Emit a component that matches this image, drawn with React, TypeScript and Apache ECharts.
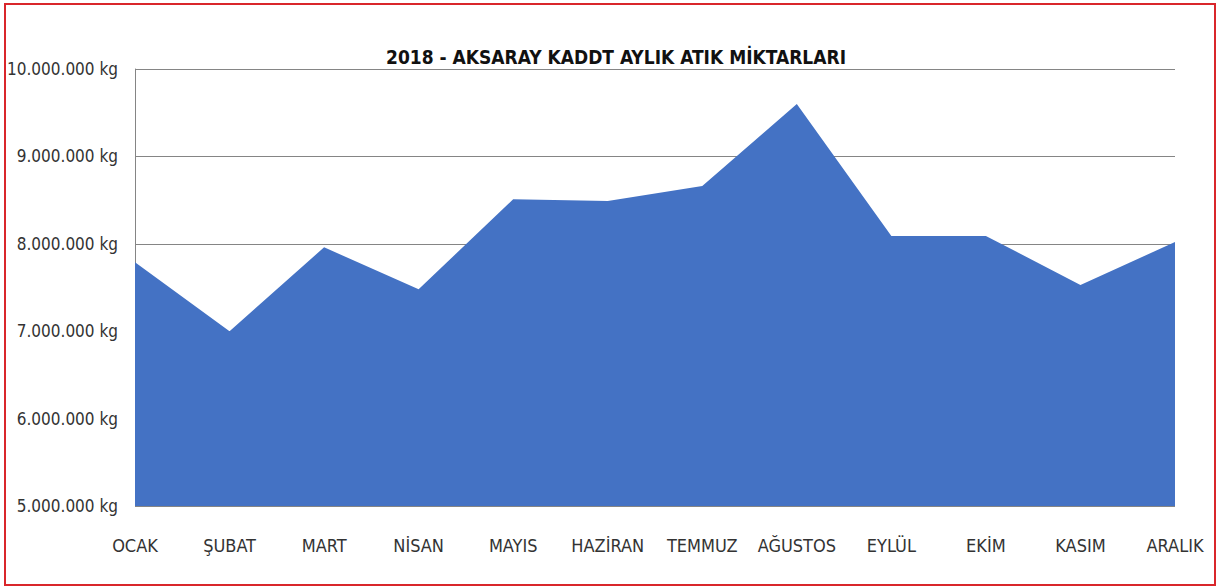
import React, { useEffect, useRef } from "react";
import * as echarts from "echarts";

const months = ["OCAK", "ŞUBAT", "MART", "NİSAN", "MAYIS", "HAZİRAN", "TEMMUZ", "AĞUSTOS", "EYLÜL", "EKİM", "KASIM", "ARALIK"];
const wasteKg = [7790000, 7000000, 7960000, 7480000, 8510000, 8490000, 8660000, 9600000, 8090000, 8090000, 7530000, 8020000];
const titleText = "2018 - AKSARAY KADDT AYLIK ATIK MİKTARLARI";

const FONT = "'Liberation Sans Narrow', 'DejaVu Sans Condensed', 'Liberation Sans', sans-serif";

function fmt(v: number): string {
  return String(Math.round(v)).replace(/\B(?=(\d{3})+(?!\d))/g, ".") + " kg";
}

export default function App() {
  const ref = useRef<HTMLDivElement>(null);
  useEffect(() => {
    if (!ref.current) return;
    const chart = echarts.init(ref.current, null, { renderer: "svg" });
    chart.setOption({
      animation: false,
      backgroundColor: "#ffffff",
      title: {
        text: titleText,
        left: 611,
        textAlign: "center",
        top: 42,
        textStyle: { fontFamily: FONT, fontWeight: "bold", fontSize: 19, color: "#111" },
      },
      graphic: [
        {
          type: "rect",
          shape: { x: 5, y: 4, width: 1210, height: 581 },
          style: { fill: "none", stroke: "#d9262b", lineWidth: 2 },
          silent: true,
        },
      ],
      grid: { left: 135, right: 42, top: 69, bottom: 82 },
      xAxis: {
        type: "category",
        data: months,
        boundaryGap: false,
        axisLine: { show: false },
        axisTick: { show: false },
        axisLabel: { fontFamily: FONT, fontSize: 18, color: "#333", margin: 30, interval: 0 },
      },
      yAxis: {
        type: "value",
        min: 5000000,
        max: 10000000,
        interval: 1000000,
        axisLine: { show: true, lineStyle: { color: "#858585", width: 1 } },
        axisTick: { show: false },
        splitLine: { show: true, lineStyle: { color: "#858585", width: 1 } },
        axisLabel: {
          fontFamily: FONT,
          fontSize: 17,
          color: "#333",
          margin: 17,
          padding: [18, 0, 0, 0],
          formatter: (v: number) => fmt(v),
        },
      },
      series: [
        {
          type: "line",
          data: wasteKg,
          symbol: "none",
          lineStyle: { width: 0, color: "#4472c4" },
          itemStyle: { color: "#4472c4" },
          areaStyle: { color: "#4472c4", opacity: 1 },
        },
      ],
    });
    return () => chart.dispose();
  }, []);
  return <div ref={ref} style={{ position: "fixed", left: 0, top: 0, width: 1217, height: 588 }} />;
}
